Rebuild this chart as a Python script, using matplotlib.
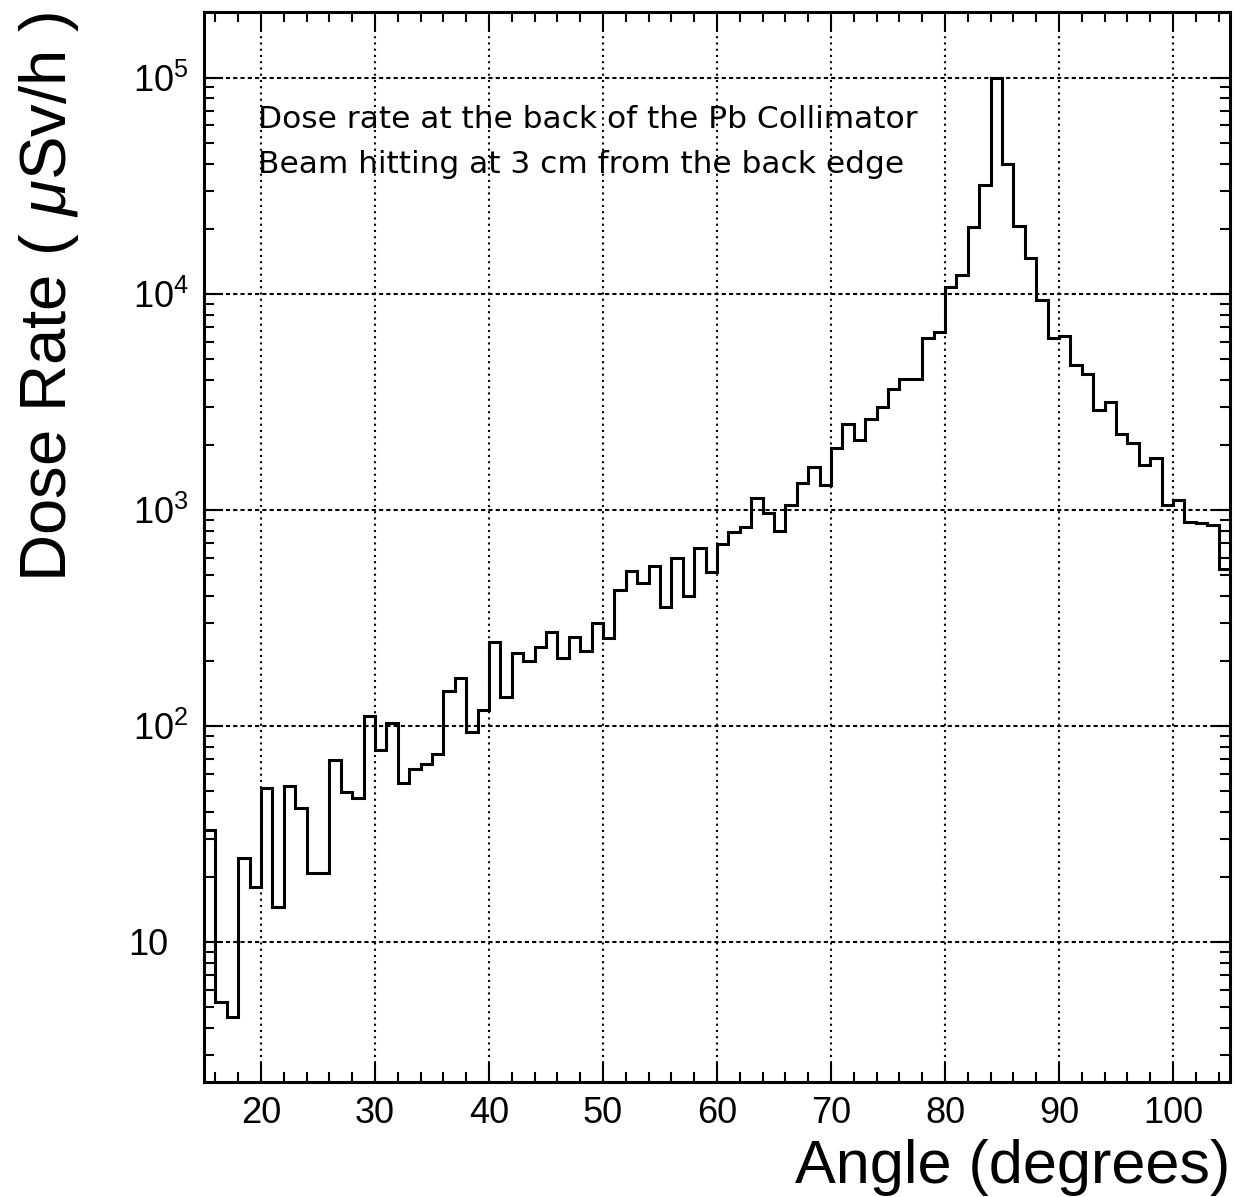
import numpy as np
import matplotlib
matplotlib.use("Agg")
import matplotlib.pyplot as plt
import matplotlib.transforms as mtransforms
from matplotlib.ticker import MultipleLocator, LogLocator, FuncFormatter, NullFormatter

# ---- data ----
angle_edges = list(range(15, 106))  # 1-degree bins from 15 to 105
dose_rate = [
    33, 5.3, 4.5, 24.6, 17.9,                 # 15-19
    51.4, 14.5, 52.9, 41.6, 20.9,             # 20-24
    20.9, 69.6, 49.3, 46.6, 111,              # 25-29
    77.4, 103, 54.7, 63, 66.7,                # 30-34
    74, 145, 166, 94, 118,                    # 35-39
    244, 136, 218, 200, 232,                  # 40-44
    272, 207, 258, 222, 300,                  # 45-49
    255, 425, 522, 456, 549,                  # 50-54
    356, 601, 398, 662, 513,                  # 55-59
    698, 791, 828, 1128, 961,                 # 60-64
    797, 1051, 1324, 1581, 1301,              # 65-69
    1930, 2500, 2096, 2642, 2990,             # 70-74
    3605, 4033, 4033, 6250, 6650,             # 75-79
    10740, 12200, 20370, 31750, 100000,       # 80-84
    39700, 20650, 14580, 9310, 6250,          # 85-89
    6370, 4680, 4240, 2900, 3140,             # 90-94
    2234, 2034, 1614, 1738, 1050,             # 95-99
    1110, 880, 870, 850, 530,                 # 100-104
]
x_major_ticks = [20, 30, 40, 50, 60, 70, 80, 90, 100]
annotation_lines = ["Dose rate at the back of the Pb Collimator",
                    "Beam hitting at 3 cm from the back edge"]
x_title = "Angle (degrees)"
y_title = r"Dose Rate ( $\mu$Sv/h )"

plt.rcParams['font.family'] = ['Liberation Sans', 'DejaVu Sans']
plt.rcParams['mathtext.fontset'] = 'custom'
plt.rcParams['mathtext.rm'] = 'Liberation Sans'
plt.rcParams['mathtext.it'] = 'Liberation Sans:italic'

W, H = 1235, 1197
fig = plt.figure(figsize=(W / 100, H / 100), dpi=100)
left, right, top, bottom = 204, 1230, 12, 1082
ax = fig.add_axes([left / W, (H - bottom) / H, (right - left) / W, (bottom - top) / H])

ax.stairs(dose_rate, angle_edges, baseline=None, color='black', linewidth=2.2)

ax.set_yscale('log')
ax.set_xlim(15, 105)
ax.set_ylim(2.25, 2.01e5)

ax.xaxis.set_major_locator(plt.FixedLocator(x_major_ticks))
ax.xaxis.set_minor_locator(MultipleLocator(2))
ax.yaxis.set_major_locator(LogLocator(base=10))
ax.yaxis.set_minor_locator(LogLocator(base=10, subs=np.arange(2, 10)))
ax.yaxis.set_minor_formatter(NullFormatter())


def yfmt(v, pos):
    e = int(round(np.log10(v)))
    if e == 1:
        return "10"
    return r"$10^{%d}$" % e


ax.yaxis.set_major_formatter(FuncFormatter(yfmt))

ax.tick_params(which='both', direction='in', top=True, right=True, width=1.5, colors='black')
ax.tick_params(which='major', length=14, labelsize=26)
ax.tick_params(axis='x', which='major', pad=10)
ax.tick_params(axis='y', which='major', pad=11)
ax.tick_params(which='minor', length=7)

for s in ax.spines.values():
    s.set_linewidth(2.2)
    s.set_color('black')

# grid at major ticks
ax.grid(False)
for xv in x_major_ticks:
    ax.axvline(xv, color='black', linewidth=1.5, linestyle=(0, (1, 2)), zorder=0)
for yv in [10, 100, 1000, 1e4, 1e5]:
    ax.axhline(yv, color='black', linewidth=1.5, linestyle=(0, (2, 1.5)), zorder=0)

ax.set_xlabel(x_title, fontsize=44, loc='right', labelpad=6)
ax.set_ylabel(y_title, fontsize=47, loc='top', labelpad=34)

for i, line in enumerate(annotation_lines):
    ax.text(258 / W, 1 - (128 + 45 * i) / H, line, transform=fig.transFigure,
            fontsize=22.5, family=['DejaVu Sans'], ha='left', va='baseline')

# shift the plain "10" label left so its digits line up with the "10" of 10^n labels
fig.canvas.draw()
shift = mtransforms.ScaledTranslation(-0.2, 0, fig.dpi_scale_trans)
for t in ax.yaxis.get_major_ticks():
    if t.label1.get_text() == "10":
        t.label1.set_transform(t.label1.get_transform() + shift)

fig.savefig("out.png", dpi=100)
